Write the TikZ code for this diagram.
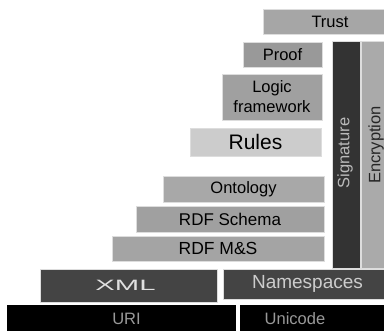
\documentclass[tikz,border=0pt]{standalone}
\usepackage{fontspec}
\setmainfont{Liberation Sans}
\usepackage{graphicx}
\definecolor{cTrust}{HTML}{A6A6A6}
\definecolor{cProof}{HTML}{999999}
\definecolor{cLogic}{HTML}{A0A0A0}
\definecolor{cRules}{HTML}{CCCCCC}
\definecolor{cOnto}{HTML}{A8A8A8}
\definecolor{cSchema}{HTML}{A0A0A0}
\definecolor{cMS}{HTML}{A4A4A4}
\definecolor{cSig}{HTML}{333333}
\definecolor{cEnc}{HTML}{AAAAAA}
\definecolor{cXML}{HTML}{444444}
\definecolor{cEdge}{HTML}{DDDDDD}
\tikzset{
  layer/.style={draw=cEdge, line width=0.6pt, inner sep=0pt, outer sep=0pt,
    font=\fontsize{16.5}{20}\selectfont, text=black, align=center},
  vtext/.style={font=\fontsize{16.5}{20}\selectfont, rotate=90, inner sep=0pt},
}
\newcommand{\layerbox}[7]{% name, x1, y1, x2, y2, style, text
  \node[layer, #6, minimum width={(#4-#2)*1pt}, minimum height={(#5-#3)*1pt}]
    (#1) at ({(#2+#4)/2*1pt},{-(#3+#5)/2*1pt}) {#7};}
\begin{document}
\begin{tikzpicture}[x=1pt,y=1pt]
\useasboundingbox (0,0) rectangle (384,-331);
\layerbox{trust}{263}{9}{386}{34}{fill=cTrust}{\hspace*{11pt}Trust}
\layerbox{proof}{243}{42}{322}{67}{fill=cProof}{Proof}
\layerbox{logic}{222}{74}{322}{120}{fill=cLogic}{Logic\\framework}
\layerbox{rules}{190}{128}{321}{156}{fill=cRules, font=\fontsize{21}{24}\selectfont}{Rules}
\layerbox{sig}{332}{41}{360}{268}{fill=cSig}{}
\node[vtext, text=white!73!black] (sigtext) at (345,-153) {Signature};
\layerbox{enc}{361}{41}{386}{268}{fill=cEnc}{}
\node[vtext, text=black!85] (enctext) at (376,-145) {Encryption};
\layerbox{onto}{163}{176}{324}{202}{fill=cOnto}{Ontology}
\layerbox{schema}{136}{206}{324}{232}{fill=cSchema, font=\fontsize{17}{20}\selectfont}{RDF Schema}
\layerbox{ms}{112}{236}{324}{261}{fill=cMS, font=\fontsize{17.5}{20}\selectfont}{RDF M\&S}
\layerbox{xml}{40}{269}{217}{302}{fill=cXML, text=white!88!black, font=\fontsize{15}{18}\selectfont}{\hspace*{-6pt}\scalebox{1.95}[1]{XML}}
\layerbox{ns}{223}{269}{386}{299}{fill=cXML, text=white!80!black, font=\fontsize{19}{22}\selectfont}{\hspace*{6pt}Namespaces}
\layerbox{uri}{7}{305}{235}{333}{fill=black, draw=black, text=white!60!black}{\hspace*{11pt}URI}
\layerbox{uni}{240}{305}{386}{333}{fill=black, draw=black, text=white!60!black}{\hspace*{-36pt}Unicode}
\end{tikzpicture}
\end{document}
